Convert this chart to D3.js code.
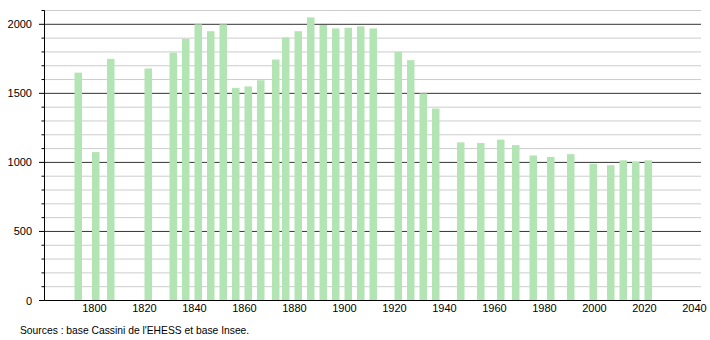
<!DOCTYPE html>
<html><head><meta charset="utf-8">
<script src="https://cdn.jsdelivr.net/npm/d3@7"></script>
<style>body{margin:0;background:#fff}svg{display:block}text{font-family:"Liberation Sans",Arial,sans-serif}</style>
</head><body><svg id="c" width="710" height="340"></svg>
<script>
const years = [1793,1800,1806,1821,1831,1836,1841,1846,1851,1856,1861,1866,1872,1876,1881,1886,1891,1896,1901,1906,1911,1921,1926,1931,1936,1946,1954,1962,1968,1975,1982,1990,1999,2006,2011,2016,2021];
const population = [1650,1075,1750,1680,1795,1895,2000,1950,2000,1540,1550,1595,1745,1905,1950,2050,1995,1970,1975,1985,1970,1800,1740,1500,1390,1145,1140,1165,1125,1050,1040,1060,990,980,1015,1005,1015];
const xTicks = [1800,1820,1840,1860,1880,1900,1920,1940,1960,1980,2000,2020,2040];
const yMajor = [0,500,1000,1500,2000];
const yMinor = d3.range(100, 2101, 100);
const source = "Sources : base Cassini de l'EHESS et base Insee.";

const svg = d3.select("#c");
const x = d3.scaleLinear().domain([1780, 2042.6]).range([44.5, 701]);
const y = d3.scaleLinear().domain([0, 2100]).range([300.5, 10.5]);

// minor grid
svg.append("g").selectAll("line").data(yMinor.filter(v => v % 500 !== 0)).join("line")
  .attr("x1", x(1780)).attr("x2", 701).attr("y1", d => y(d)).attr("y2", d => y(d))
  .attr("stroke", "#cccccc").attr("stroke-width", 1);
// major grid
svg.append("g").selectAll("line").data(yMajor.filter(v => v > 0)).join("line")
  .attr("x1", x(1780)).attr("x2", 701).attr("y1", d => y(d)).attr("y2", d => y(d))
  .attr("stroke", "#333333").attr("stroke-width", 1);

// bars
const bw = x(1783) - x(1780);
svg.append("g").selectAll("rect").data(years).join("rect")
  .attr("x", d => x(d + 0.5) - bw / 2)
  .attr("width", bw)
  .attr("y", (d, i) => y(population[i]))
  .attr("height", (d, i) => y(0) - y(population[i]))
  .attr("fill", "#b3e4b3");

// y axis
const yAxis = svg.append("g");
yAxis.append("line").attr("x1", 44.5).attr("x2", 44.5).attr("y1", y(2100)).attr("y2", y(0)).attr("stroke", "#000");
yAxis.selectAll("line.t").data(yMinor.concat([0])).join("line").attr("class","t")
  .attr("x1", d => d % 500 === 0 ? 39 : 41.5).attr("x2", 44.5)
  .attr("y1", d => y(d)).attr("y2", d => y(d)).attr("stroke", "#000");
yAxis.selectAll("text").data(yMajor).join("text")
  .attr("x", 32).attr("y", d => y(d) + 4).attr("text-anchor", "end")
  .attr("font-size", 11).attr("fill", "#000").text(d => d);

// x axis
svg.append("line").attr("x1", 44.5).attr("x2", 701).attr("y1", y(0)).attr("y2", y(0)).attr("stroke", "#000");
svg.append("g").selectAll("text").data(xTicks).join("text")
  .attr("x", d => x(d)).attr("y", 312).attr("text-anchor", "middle")
  .attr("font-size", 11).attr("fill", "#000").text(d => d);

svg.append("text").attr("x", 20).attr("y", 334).attr("font-size", 10.3).attr("fill", "#000").text(source);
</script></body></html>
